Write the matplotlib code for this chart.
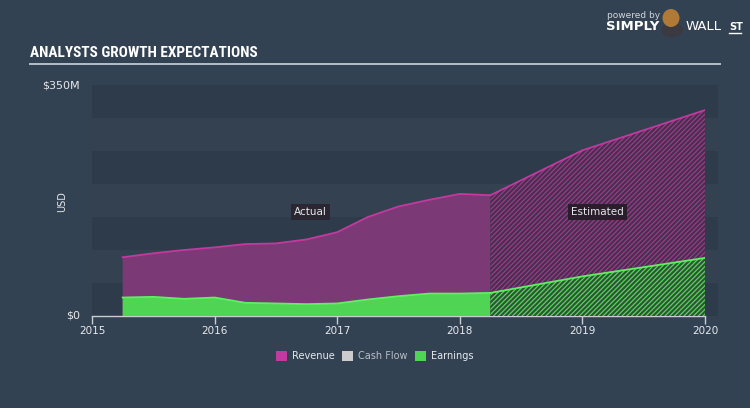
import matplotlib
matplotlib.use("Agg")
import matplotlib.pyplot as plt
from matplotlib.patches import Rectangle, Ellipse
from matplotlib import font_manager

# ---- data (USD millions) ----
act_years = [2015.25, 2015.5, 2015.75, 2016.0, 2016.25, 2016.5, 2016.75,
             2017.0, 2017.25, 2017.5, 2017.75, 2018.0, 2018.25]
act_revenue = [89, 95, 100, 104, 109, 110, 116, 127, 150, 166, 176, 185, 183]
act_earnings = [28, 29, 26, 28, 20, 19, 18, 19, 25, 30, 34, 34, 35]

est_years = [2018.25, 2019.0, 2020.0]
est_revenue = [183, 251, 312]
est_earnings = [35, 60, 88]

year_ticks = [2015, 2016, 2017, 2018, 2019, 2020]
legend_labels = ["Revenue", "Cash Flow", "Earnings"]

BG = "#334252"
BAND_DARK = "#2e3b4a"
BAND_LIGHT = "#334150"
REV_FILL = "#7b3a76"
REV_LINE = "#c2399f"
EARN_FILL = "#4fd454"
EARN_LINE = "#5ef060"
TEXT = "#e6e9ec"

# pick the narrowest available family for the condensed title
names = {f.name for f in font_manager.fontManager.ttflist}
title_family = "DejaVu Sans"
for cand in ["Roboto Condensed", "Liberation Sans Narrow", "Open Sans Condensed",
             "DejaVu Sans Condensed", "Roboto"]:
    if cand in names:
        title_family = cand
        break
title_size = 11 if title_family != "Roboto" else 10

plt.rcParams["hatch.linewidth"] = 0.9

fig = plt.figure(figsize=(7.5, 4.08), dpi=100, facecolor=BG)
ax = fig.add_axes([92/750, 92/408, 613/750, 231/408])
ax.set_facecolor(BG)
ax.set_xlim(2015, 2020)
ax.set_ylim(0, 350)

# background bands
ext = (718 - 92) / 613
for i in range(7):
    col = BAND_DARK if i % 2 == 0 else BAND_LIGHT
    ax.add_patch(Rectangle((0, i * 50 / 350), ext, 50 / 350, transform=ax.transAxes,
                           facecolor=col, edgecolor="none", clip_on=False, zorder=0))

# actual
ax.fill_between(act_years, 0, act_revenue, facecolor=REV_FILL, edgecolor="none", zorder=2)
ax.plot(act_years, act_revenue, color=REV_LINE, lw=1.3, zorder=3)
ax.fill_between(act_years, 0, act_earnings, facecolor=EARN_FILL, edgecolor="none", zorder=4)
ax.plot(act_years, act_earnings, color=EARN_LINE, lw=1.3, zorder=5)

# estimated (hatched)
ax.fill_between(est_years, 0, est_revenue, facecolor="#46304c", edgecolor="#9a3a8c",
                hatch="///////", linewidth=0, zorder=2)
ax.plot(est_years, est_revenue, color=REV_LINE, lw=1.3, zorder=3)
ax.fill_between(est_years, 0, est_earnings, facecolor="#2f5238", edgecolor="#55d657",
                hatch="///////", linewidth=0, zorder=4)
ax.plot(est_years, est_earnings, color=EARN_LINE, lw=1.3, zorder=5)

# annotations
ax.text(2016.78, 158, "Actual", color=TEXT, fontsize=7.5, ha="center", va="center",
        zorder=6, bbox=dict(boxstyle="square,pad=0.3", facecolor="#2a2732", edgecolor="none"))
ax.text(2019.12, 158, "Estimated", color=TEXT, fontsize=7.5, ha="center", va="center",
        zorder=6, bbox=dict(boxstyle="square,pad=0.3", facecolor="#2a1d2c", edgecolor="none"))

# axes styling
for s in ["top", "right", "left"]:
    ax.spines[s].set_visible(False)
ax.spines["bottom"].set_color("#c8ced4")
ax.spines["bottom"].set_linewidth(1)
ax.set_xticks(year_ticks)
ax.set_xticklabels([str(y) for y in year_ticks])
ax.tick_params(axis="x", colors="#c8ced4", length=6, width=1, labelsize=7.5, pad=1,
               labelcolor=TEXT)
ax.set_yticks([])
ax.text(-12/613, 0, "$0", transform=ax.transAxes, color=TEXT, fontsize=8, ha="right", va="center")
ax.text(-12/613, 1.0, "$350M", transform=ax.transAxes, color=TEXT, fontsize=8, ha="right", va="center")
fig.text(62/750, 1 - 202/408, "USD", rotation=90, color=TEXT, fontsize=7, ha="center", va="center")

# title and rule
fig.text(30/750, 1 - 53/408, "ANALYSTS GROWTH EXPECTATIONS", color="white", fontsize=title_size,
         fontweight="bold", fontstretch="condensed",
         family=[title_family, "DejaVu Sans"], ha="left", va="center")
fig.add_artist(plt.Line2D([30/750, 720/750], [1 - 64.3/408, 1 - 64.3/408], color="#b4bec9", lw=1.4))

# logo
fig.text(607/750, 1 - 15/408, "powered by", color="#d0d5da", fontsize=6.5, ha="left", va="center")
fig.text(606/750, 1 - 27/408, "SIMPLY", color="white", fontsize=9.5, fontweight="bold",
         ha="left", va="center")
fig.text(686/750, 1 - 27/408, "WALL", color="white", fontsize=9.5, ha="left", va="center")
fig.text(729/750, 1 - 27/408, "ST", color="white", fontsize=7, fontweight="bold",
         ha="left", va="center")
fig.add_artist(plt.Line2D([729/750, 741/750], [1 - 33/408, 1 - 33/408], color="white", lw=1))
fig.patches.append(Ellipse((672/750, 1 - 30/408), 22/750, 14/408, transform=fig.transFigure,
                           facecolor="#3a3a40", edgecolor="none"))
fig.patches.append(Ellipse((671/750, 1 - 18/408), 17/750, 18/408, transform=fig.transFigure,
                           facecolor="#b07a36", edgecolor="none"))

# legend
leg_cols = [REV_LINE, "#cccccc", EARN_FILL]
leg_x = [276, 342, 415]
leg_txt_col = [TEXT, "#b8bec5", TEXT]
for lab, c, x, tc in zip(legend_labels, leg_cols, leg_x, leg_txt_col):
    fig.patches.append(Rectangle((x/750, 1 - 361/408), 11/750, 10/408, transform=fig.transFigure,
                                 facecolor=c, edgecolor="none"))
    fig.text((x + 16)/750, 1 - 356/408, lab, color=tc, fontsize=7, ha="left", va="center")

fig.savefig("out.png", dpi=100, facecolor=BG)
